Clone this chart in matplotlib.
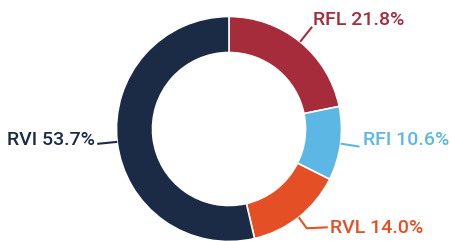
import matplotlib
matplotlib.use("Agg")
import matplotlib.pyplot as plt
import numpy as np

labels = ["RFL", "RFI", "RVL", "RVI"]
values = [21.8, 10.6, 14.0, 53.7]
colors = ["#A62B3B", "#5DB7E5", "#E54F25", "#1B2A45"]

W, H = 451, 241
fig = plt.figure(figsize=(W / 100, H / 100), dpi=100)
ax = fig.add_axes([0, 0, 1, 1])
ax.set_xlim(0, W)
ax.set_ylim(0, H)
ax.set_aspect("equal")
ax.axis("off")

cx, cy, R = 229, 112, 112.5
wedges, _ = ax.pie(values, colors=colors, startangle=90, counterclock=False,
                   center=(cx, cy), radius=R, frame=True,
                   wedgeprops=dict(width=36, edgecolor="white", linewidth=1.2))
ax.set_xlim(0, W)
ax.set_ylim(0, H)
ax.axis("off")

# label layout: (elbow offsets from anchor in px, text pos, ha)
layout = {
    "RFL": ([(12, 15)], (313, 221), "left"),
    "RFI": ([(19, -3)], (363, 101), "left"),
    "RVL": ([(8, -11), (29, -10)], (330, 13), "left"),
    "RVI": ([(-20, -2)], (95, 101), "right"),
}

total = sum(values)
cum = 0
for lab, val, col in zip(labels, values, colors):
    mid = 90 - (cum + val / 2) / total * 360
    cum += val
    ax_ = cx + R * np.cos(np.radians(mid))
    ay_ = cy + R * np.sin(np.radians(mid))
    offs, (tx, ty), ha = layout[lab]
    xs = [ax_] + [ax_ + o[0] for o in offs]
    ys = [ay_] + [ay_ + o[1] for o in offs]
    ax.plot(xs, ys, color=col, lw=1.5, solid_capstyle="butt")
    ax.text(tx, ty, f"{lab} {val:.1f}%", color=col, ha=ha, va="center",
            fontsize=14, family="Roboto", fontweight="medium")

fig.savefig("out.png", dpi=100)
